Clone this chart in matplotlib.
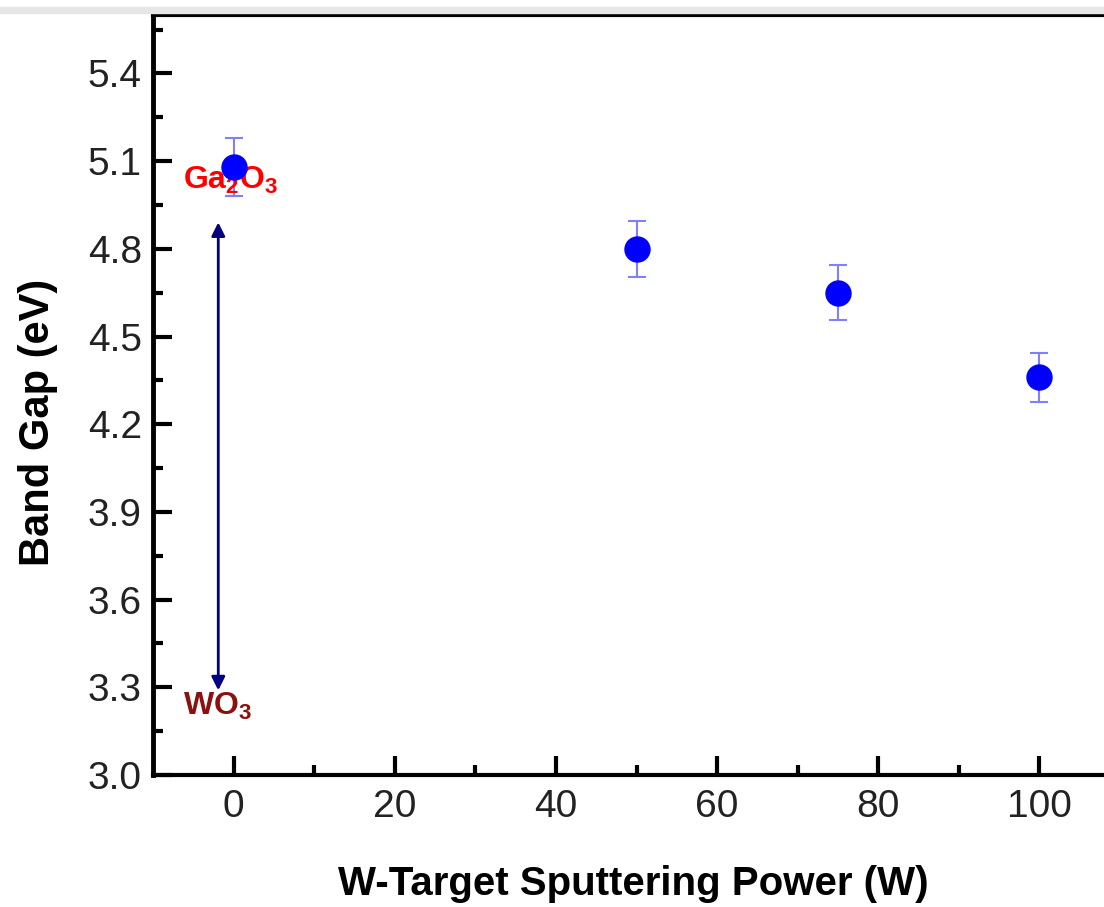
import matplotlib
matplotlib.use("Agg")
import matplotlib.pyplot as plt
from matplotlib.patches import Rectangle

power = [0, 50, 75, 100]
band_gap = [5.08, 4.80, 4.65, 4.36]
band_err = [0.10, 0.095, 0.095, 0.085]

plt.rcParams['font.family'] = ['Liberation Sans', 'DejaVu Sans']
plt.rcParams['mathtext.fontset'] = 'custom'
plt.rcParams['mathtext.rm'] = 'Liberation Sans'
plt.rcParams['mathtext.bf'] = 'Liberation Sans:bold'

W, H = 1104, 907
fig = plt.figure(figsize=(W/100, H/100), dpi=100)
left, right, top, bottom = 153, 1120, 15, 775
ax = fig.add_axes([left/W, 1-bottom/H, (right-left)/W, (bottom-top)/H])

fig.patches.append(Rectangle((0, 1-13/H), 1, 6/H, transform=fig.transFigure,
                             color='#e6e6e6', zorder=0))

ax.errorbar(power, band_gap, yerr=band_err, fmt='o', color='#0000ff',
            markersize=18, ecolor='#8080ff', elinewidth=1.5, capsize=6.5,
            capthick=1.5, zorder=3)

ax.set_xlim(-10, 110)
ax.set_ylim(3.0, 5.6)
ax.set_xticks([0, 20, 40, 60, 80, 100])
ax.set_xticks([10, 30, 50, 70, 90, 110], minor=True)
ax.set_yticks([3.0, 3.3, 3.6, 3.9, 4.2, 4.5, 4.8, 5.1, 5.4])
ax.set_yticks([3.15, 3.45, 3.75, 4.05, 4.35, 4.65, 4.95, 5.25, 5.55], minor=True)
ax.set_yticklabels(['3.0', '3.3', '3.6', '3.9', '4.2', '4.5', '4.8', '5.1', '5.4'])

ax.tick_params(which='major', direction='in', length=14, width=3, labelsize=28,
               labelcolor='#222222', pad=8)
ax.tick_params(axis='x', which='major', pad=10)
ax.tick_params(which='minor', direction='in', length=7, width=3)
for s in ax.spines.values():
    s.set_linewidth(3)
ax.spines['left'].set_linewidth(3.5)

ax.set_xlabel('W-Target Sputtering Power (W)', fontsize=29, fontweight='bold')
ax.set_ylabel('Band Gap (eV)', fontsize=30, fontweight='bold')
ax.xaxis.set_label_coords(0.497, -0.118)
ax.yaxis.set_label_coords(-0.098, 0.464)

ax.annotate('', xy=(-1.9, 4.90), xytext=(-1.9, 3.28),
            arrowprops=dict(arrowstyle='<|-|>', color='#000080', lw=2,
                            mutation_scale=20))
ax.text(-6.3, 5.035, r'$\mathbf{Ga_2O_3}$', color='#ff0000', fontsize=23,
        ha='left', va='center')
ax.text(-6.3, 3.235, r'$\mathbf{WO_3}$', color='#8b1010', fontsize=23,
        ha='left', va='center')

fig.savefig('out.png', dpi=100)
